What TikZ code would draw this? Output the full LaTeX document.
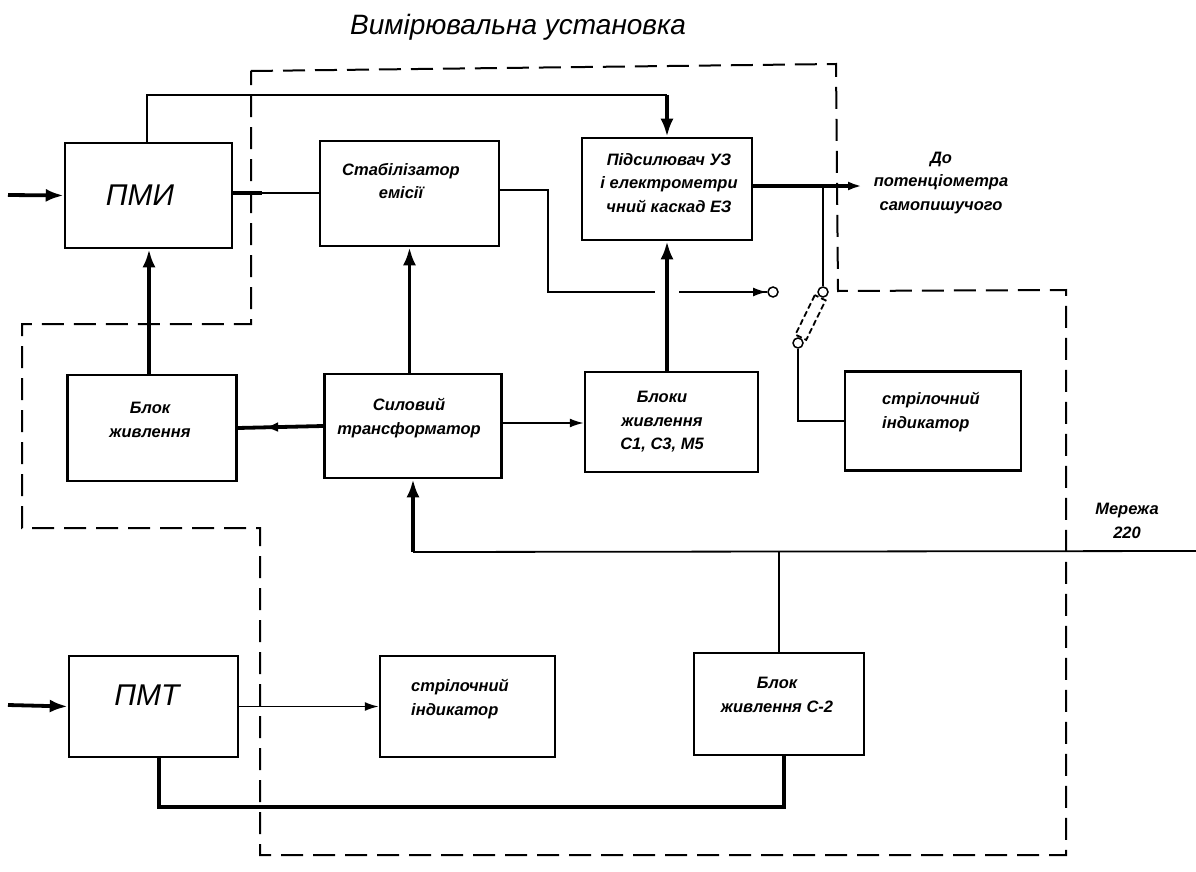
\documentclass[tikz,border=0pt]{standalone}
\usepackage{fontspec}
\setmainfont{Liberation Sans}
\usetikzlibrary{arrows.meta,decorations.markings}
\begin{document}
\begin{tikzpicture}[x=1pt,y=-1pt,
  box/.style={draw, line width=2.5pt, inner sep=0pt},
  lbl/.style={font=\fontsize{16.5}{23.5}\selectfont\bfseries\itshape, align=center, inner sep=0pt},
  lbll/.style={lbl, align=left, anchor=west},
  big/.style={font=\fontsize{30}{30}\selectfont\itshape, inner sep=0pt},
  conn/.style={line width=1.8pt},
  heavy/.style={line width=3.8pt},
  arr/.style={-{Latex[length=18pt,width=13pt]}},
  sarr/.style={-{Latex[length=14pt,width=9pt]}},
  frame/.style={line width=2pt, dash pattern=on 22pt off 10pt},
  ring/.style={circle, draw, line width=1.5pt, minimum size=10pt, inner sep=0pt, fill=white}
]
\useasboundingbox[fill=white] (0,0) rectangle (1196,872);

% title
\node[font=\fontsize{28}{30}\selectfont\itshape, inner sep=0pt] (title) at (518,27) {Вимірювальна установка};

% dashed frame of the measuring set
\draw[frame] (251,71) -- (836,64) -- (838,291) -- (1066,290) -- (1066,855)
  -- (260,855) -- (260,528) -- (22,528) -- (22,324) -- (251,324) -- cycle;

% boxes
\node[box, minimum width=167pt, minimum height=105pt] (pmi)  at (148.5,195.5) {};
\node[box, minimum width=179pt, minimum height=105pt] (stab) at (409.5,193.5) {};
\node[box, minimum width=170pt, minimum height=102pt] (pids) at (667,189) {};
\node[box, minimum width=169pt, minimum height=106pt] (bz)   at (152,428) {};
\node[box, minimum width=177pt, minimum height=104pt] (sil)  at (413,426) {};
\node[box, minimum width=173pt, minimum height=100pt] (blk)  at (671.5,422) {};
\node[box, minimum width=176pt, minimum height=99pt]  (strR) at (933,421) {};
\node[box, minimum width=169pt, minimum height=101pt] (pmt)  at (153.5,706.5) {};
\node[box, minimum width=175pt, minimum height=101pt] (strB) at (467.5,706.5) {};
\node[box, minimum width=170pt, minimum height=102pt] (cdva) at (779,704) {};

% labels
\node[big] (tpmi) at (140,195) {ПМИ};
\node[lbl] (tstab) at (401,181) {Стабілізатор\\емісії};
\node[lbl] (tpids) at (669,183) {Підсилювач УЗ\\і електрометри\\чний каскад ЕЗ};
\node[lbl] (tbz) at (150,420) {Блок\\живлення};
\node[lbl] (tsil) at (409,418) {Силовий\\трансформатор};
\node[lbl] (tblk) at (662,422) {Блоки\\живлення\\С1, С3, М5};
\node[lbll] (tstrR) at (882,412) {стрілочний\\індикатор};
\node[big] (tpmt) at (147,695) {ПМТ};
\node[lbll] (tstrB) at (411,699) {стрілочний\\індикатор};
\node[lbl] (tcdva) at (777,695) {Блок\\живлення С-2};
\node[lbl] (tdo) at (941,183) {До\\потенціометра\\самопишучого};
\node[lbl] (tmer) at (1127,521) {Мережа\\220};

% coordinates
\coordinate (inA) at (8,195);
\coordinate (inB) at (8,705);
\coordinate (topR) at (667,95);
\coordinate (k1) at (548,292);
\coordinate (outE) at (862,186);
\coordinate (m1) at (413,552);
\coordinate (mE) at (1196,551);
\coordinate (b1) at (159,807);

% switch
\node[ring, minimum size=10pt] (c1) at (823,292) {};
\node[ring, minimum size=10pt] (c2) at (798,343) {};
\node[draw, line width=1.8pt, dash pattern=on 6pt off 3pt, minimum width=44pt, minimum height=12pt, inner sep=0pt, rotate=63.9] (sw) at (810.5,317.5) {};
\node[ring] (oc) at (773,292) {};

% connectors
\draw[heavy, arr] (inA) -- (pmi.west);
\draw[heavy, arr] (inB) -- (pmt.west);
\draw[conn] (pmi.north -| 147,0) -- (147,95) -- (topR);
\draw[heavy, arr] (topR) -- (pids.north);
\draw[conn] (pmi.east |- 0,193) -- (stab.west |- 0,193);
\draw[heavy] (pmi.east |- 0,193) -- (262,193);
\draw[conn] (stab.east |- 0,190) -| (k1) -- (oc.west);
\draw[conn, sarr] (k1) -- (767,292);
\draw[heavy, sarr] (pids.east |- outE) -- (outE);
\draw[conn] (c1 |- outE) -- (c1.north);
\draw[conn] (c2.south) |- (strR.west);
\fill[white] (655,285) rectangle (679,300);
\draw[heavy, arr] (blk.north -| pids.south) -- (pids.south);
\draw[heavy, arr] (bz.north -| 149,0) -- (pmi.south -| 149,0);
\draw[heavy, arr] (sil.north -| stab.south) -- (stab.south);
\draw[heavy, postaction={decorate, decoration={markings, mark=at position 0.68 with {\arrow{Latex[length=13pt,width=10pt]}}}}] (sil.west) -- (bz.east);
\draw[conn, sarr] (sil.east |- 0,423) -- (blk.west |- 0,423);
\draw[conn] (m1) -- (mE);
\draw[heavy, arr] (m1) -- (sil.south -| m1);
\draw[conn] (cdva.north |- m1) -- (cdva.north);
\draw[conn, sarr] (pmt.east) -- (strB.west);
\draw[heavy] (pmt.south -| b1) -- (b1) -| (cdva.south -| 784,0);
\end{tikzpicture}
\end{document}
